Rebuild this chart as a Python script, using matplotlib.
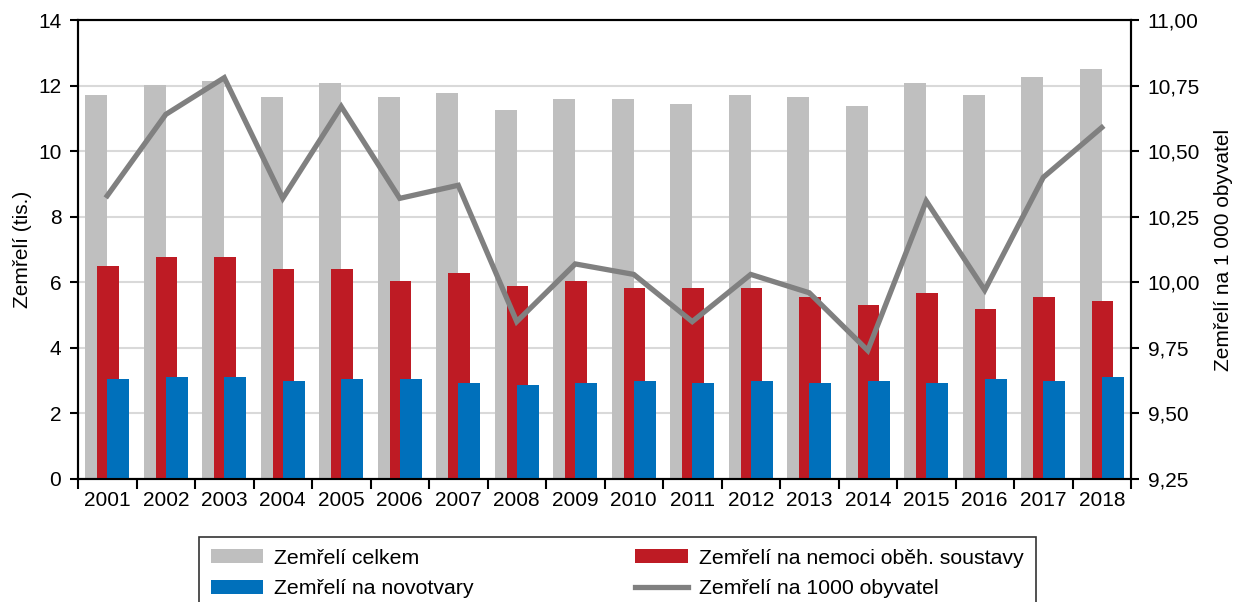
import numpy as np
import matplotlib
matplotlib.use('Agg')
import matplotlib.pyplot as plt
from matplotlib.ticker import FuncFormatter, FixedLocator

plt.rcParams['font.family'] = ['Liberation Sans', 'DejaVu Sans']

# data
years = [str(y) for y in range(2001, 2019)]
total = [11.70, 12.01, 12.13, 11.64, 12.07, 11.64, 11.77, 11.27, 11.59,
         11.59, 11.45, 11.70, 11.64, 11.39, 12.07, 11.70, 12.26, 12.50]
circulatory = [6.51, 6.76, 6.76, 6.39, 6.39, 6.03, 6.27, 5.90, 6.03,
               5.84, 5.84, 5.84, 5.54, 5.30, 5.66, 5.17, 5.54, 5.42]
neoplasms = [3.04, 3.10, 3.10, 2.98, 3.04, 3.04, 2.92, 2.86, 2.92,
             2.98, 2.92, 2.98, 2.92, 2.98, 2.92, 3.04, 2.98, 3.10]
per_1000 = [10.33, 10.64, 10.78, 10.32, 10.67, 10.32, 10.37, 9.85, 10.07,
            10.03, 9.85, 10.03, 9.96, 9.74, 10.31, 9.97, 10.40, 10.59]

c_grey = '#bfbfbf'
c_red = '#be1b24'
c_blue = '#0070bb'
c_line = '#808080'
fs = 15

fig = plt.figure(figsize=(12.34, 6.02), dpi=100)
ax = fig.add_axes([78/1234, 1 - 479/602, (1131 - 78)/1234, (479 - 20)/602])
ax2 = ax.twinx()

x = np.arange(len(years))
w = 0.375
b1 = ax.bar(x - 0.1875, total, w, color=c_grey, zorder=2)
b2 = ax.bar(x + 0.0125, circulatory, w, color=c_red, zorder=3)
b3 = ax.bar(x + 0.1875, neoplasms, w, color=c_blue, zorder=4)
l1, = ax2.plot(x, per_1000, color=c_line, lw=3.8, solid_joinstyle='miter')

ax.set_xlim(-0.5, len(years) - 0.5)
ax.set_ylim(0, 14)
ax.set_yticks(range(0, 15, 2))
ax2.set_ylim(9.25, 11.0)
ax2.set_yticks(np.arange(9.25, 11.01, 0.25))
ax2.yaxis.set_major_formatter(FuncFormatter(lambda v, p: f'{v:.2f}'.replace('.', ',')))

ax.yaxis.grid(True, color='#d9d9d9', lw=1.5)
ax.set_axisbelow(True)

# category labels centred, tick marks on the boundaries
ax.set_xticks(x)
ax.set_xticklabels(years)
ax.xaxis.set_minor_locator(FixedLocator(np.arange(-0.5, len(years), 1.0)))
ax.tick_params(axis='x', which='major', length=0, pad=9, labelsize=fs)
ax.tick_params(axis='x', which='minor', length=7, width=1.5, direction='out')
ax.tick_params(axis='y', length=6, width=1.5, direction='out', labelsize=fs, pad=6)
ax2.tick_params(axis='y', length=6, width=1.5, direction='out', labelsize=fs, pad=6)

for a in (ax, ax2):
    for s in a.spines.values():
        s.set_linewidth(1.5)
        s.set_color('black')

ax.set_ylabel('Zemřelí (tis.)', fontsize=fs, labelpad=4)
ax2.set_ylabel('Zemřelí na 1 000 obyvatel', fontsize=fs, labelpad=10)

# legend fills column-wise
leg = fig.legend([b1, b3, b2, l1],
                 ['Zemřelí celkem', 'Zemřelí na novotvary',
                  'Zemřelí na nemoci oběh. soustavy', 'Zemřelí na 1000 obyvatel'],
                 ncol=2, loc='upper left', bbox_to_anchor=(199/1234, 1 - 537/602),
                 fontsize=15.3, frameon=True, fancybox=False, edgecolor='black',
                 handlelength=2.45, handleheight=0.65, handletextpad=0.55,
                 columnspacing=7.6, labelspacing=0.55, borderpad=0.55,
                 borderaxespad=0)
leg.get_frame().set_linewidth(1.2)

fig.savefig('out.png', dpi=100)
